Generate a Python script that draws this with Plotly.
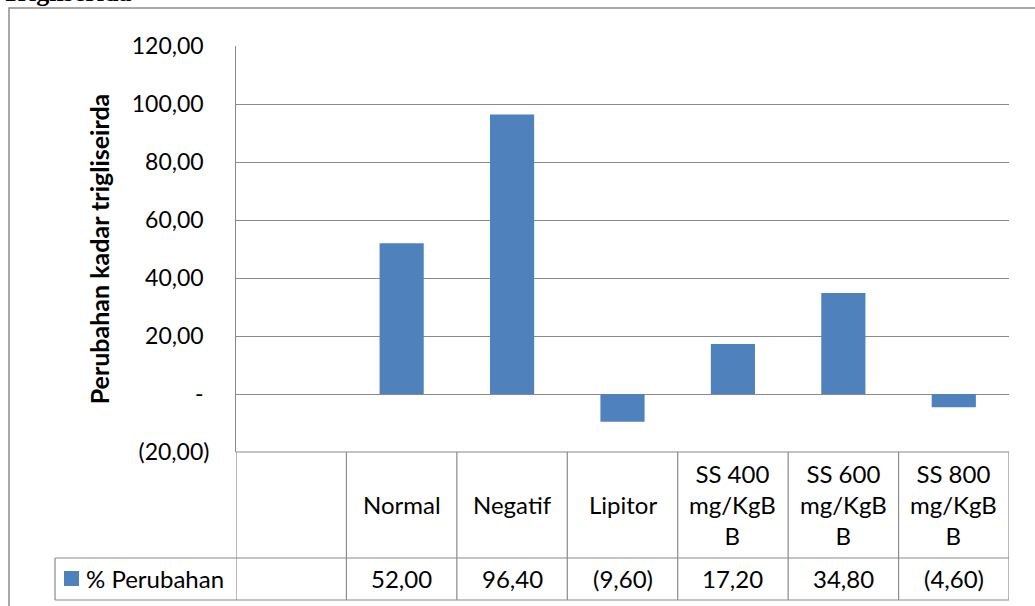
import plotly.graph_objects as go

# Trigliserida: % change in triglyceride levels per treatment group
categories = ["Normal", "Negatif", "Lipitor", "SS 400 mg/KgBB", "SS 600 mg/KgBB", "SS 800 mg/KgBB"]
header_labels = ["Normal", "Negatif", "Lipitor", "SS 400<br>mg/KgB<br>B", "SS 600<br>mg/KgB<br>B", "SS 800<br>mg/KgB<br>B"]
perubahan = [52.00, 96.40, -9.60, 17.20, 34.80, -4.60]
series_name = "% Perubahan"
y_ticks = [-20, 0, 20, 40, 60, 80, 100, 120]

W, H = 1035, 606
BLUE = "#4F81BD"
GRID = "#8a8a8a"
FONT = "Lato"


def fx(px):
    return px / W


def fy(py):
    return 1 - py / H


def acct(v, pad=True):
    """Accounting style: comma decimals, negatives in parentheses, zero as dash."""
    sp = "\u2005" if pad else ""
    if v == 0:
        return "-" + sp
    s = f"{abs(v):.2f}".replace(".", ",")
    return f"({s})" if v < 0 else s + sp


slots = ["\u2009"] + categories  # leading empty slot under the table's legend column

fig = go.Figure()
fig.add_trace(go.Bar(
    x=categories, y=perubahan, width=0.4, name=series_name,
    marker=dict(color=BLUE, line=dict(width=0)), hoverinfo="skip",
))

fig.update_layout(
    width=W, height=H, autosize=False,
    margin=dict(l=0, r=0, t=0, b=0, autoexpand=False),
    paper_bgcolor="white", plot_bgcolor="white",
    showlegend=False,
    font=dict(family=FONT, size=23, color="black"),
    xaxis=dict(
        type="category", categoryorder="array", categoryarray=slots,
        range=[-0.5, 6.5], domain=[fx(236), fx(1009)], automargin=False,
        showticklabels=False, showgrid=False, zeroline=False, showline=False, ticks="",
    ),
    yaxis=dict(
        range=[-20, 120], domain=[fy(452), fy(46)], automargin=False,
        tickvals=y_ticks, ticktext=[acct(v) for v in y_ticks],
        ticks="", ticklabelstandoff=21,
        showgrid=True, gridcolor=GRID, gridwidth=1,
        zeroline=True, zerolinecolor=GRID, zerolinewidth=1.2,
        showline=True, linecolor=GRID, linewidth=1,
        title=dict(text="<b>Perubahan kadar trigliseirda</b>", standoff=14,
                   font=dict(family=FONT, size=25)),
    ),
)

line = dict(color=GRID, width=1.2)
shapes = []
# outer chart border (right and bottom edges run past the page)
shapes.append(dict(type="rect", xref="paper", yref="paper", x0=fx(9), x1=fx(1100), y0=fy(640), y1=fy(8),
                   line=dict(color="#8c8c8c", width=1.5), fillcolor="rgba(0,0,0,0)", layer="below"))
# data table: vertical lines at category boundaries
shapes.append(dict(type="line", xref="x", yref="paper", x0=-0.5, x1=-0.5, y0=fy(600), y1=fy(452), line=line))
for i in range(len(slots)):
    xb = i + 0.5
    shapes.append(dict(type="line", xref="x", yref="paper", x0=xb, x1=xb, y0=fy(600), y1=fy(452), line=line))
# data table: horizontal lines
shapes.append(dict(type="line", xref="x", yref="paper", x0=-0.5, x1=6.5, y0=fy(452), y1=fy(452), line=line))
for py in (558, 600):
    shapes.append(dict(type="line", xref="paper", yref="paper", x0=fx(55), x1=fx(1009), y0=fy(py), y1=fy(py), line=line))
shapes.append(dict(type="line", xref="paper", yref="paper", x0=fx(55), x1=fx(55), y0=fy(600), y1=fy(558), line=line))
# legend key
shapes.append(dict(type="rect", xref="paper", yref="paper", x0=fx(64), x1=fx(79), y0=fy(586), y1=fy(571),
                   line=dict(width=0), fillcolor=BLUE))
fig.update_layout(shapes=shapes)

annotations = []
for cat, lab, v in zip(categories, header_labels, perubahan):
    annotations.append(dict(x=cat, xref="x", y=fy(504), yref="paper", text=lab, showarrow=False,
                            xanchor="center", yanchor="middle", font=dict(size=24)))
    annotations.append(dict(x=cat, xref="x", y=fy(578), yref="paper", text=acct(v, pad=False), showarrow=False,
                            xanchor="center", yanchor="middle", font=dict(size=24)))
annotations.append(dict(x=fx(84), xref="paper", y=fy(578), yref="paper", text=series_name, showarrow=False,
                        xanchor="left", yanchor="middle", font=dict(size=24)))
# chart heading, partly above the page edge
annotations.append(dict(x=fx(0), xref="paper", y=fy(9), yref="paper", text="<b>Trigliserida</b>", showarrow=False,
                        xanchor="left", yanchor="bottom", font=dict(family="Liberation Serif", size=26)))
fig.update_layout(annotations=annotations)

fig.write_html("out.html")
